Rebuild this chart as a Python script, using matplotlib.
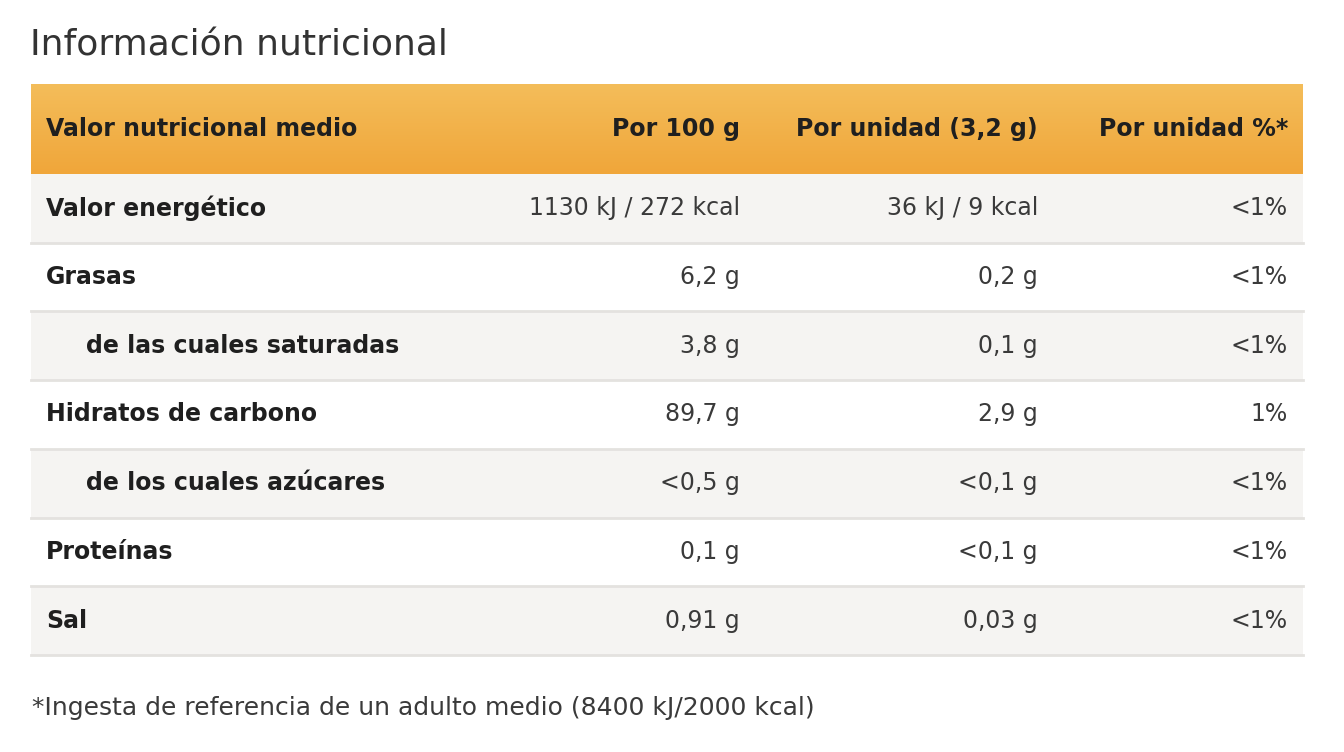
import numpy as np
import matplotlib.pyplot as plt
from matplotlib.colors import LinearSegmentedColormap

W, H = 1344, 752

title = "Información nutricional"
headers = ["Valor nutricional medio", "Por 100 g", "Por unidad (3,2 g)", "Por unidad %*"]
nutrients = ["Valor energético", "Grasas", "de las cuales saturadas",
             "Hidratos de carbono", "de los cuales azúcares", "Proteínas", "Sal"]
indented = [False, False, True, False, True, False, False]
per_100g = ["1130 kJ / 272 kcal", "6,2 g", "3,8 g", "89,7 g", "<0,5 g", "0,1 g", "0,91 g"]
per_unit = ["36 kJ / 9 kcal", "0,2 g", "0,1 g", "2,9 g", "<0,1 g", "<0,1 g", "0,03 g"]
per_unit_pct = ["<1%", "<1%", "<1%", "1%", "<1%", "<1%", "<1%"]
footnote = "*Ingesta de referencia de un adulto medio (8400 kJ/2000 kcal)"

plt.rcParams['font.family'] = ['DejaVu Sans']

fig = plt.figure(figsize=(W / 100, H / 100), dpi=100)
ax = fig.add_axes([0, 0, 1, 1])
ax.set_xlim(0, W)
ax.set_ylim(H, 0)
ax.axis("off")

x0, x1 = 31, 1303
head_top, head_bot = 84, 174
row_h = 68.7
col_right = [740, 1038, 1288]
dark = "#1f1f1f"

# header gradient
cmap = LinearSegmentedColormap.from_list("hdr", ["#f4bd5a", "#f0a63a"])
grad = np.linspace(0, 1, 100).reshape(-1, 1)
ax.imshow(grad, cmap=cmap, extent=[x0, x1, head_bot, head_top], aspect="auto", zorder=1)

ax.text(30, 45, title, fontsize=26, color="#333333", va="center", ha="left")

hy = (head_top + head_bot) / 2
ax.text(46, hy, headers[0], fontsize=17, fontweight="bold", color=dark, va="center", zorder=3)
for xr, h in zip(col_right, headers[1:]):
    ax.text(xr, hy, h, fontsize=17, fontweight="bold", color=dark, va="center", ha="right", zorder=3)

for i, name in enumerate(nutrients):
    top = head_bot + i * row_h
    bg = "#f5f4f2" if i % 2 == 0 else "white"
    ax.fill_between([x0, x1], top, top + row_h, color=bg, lw=0, zorder=1)
    ax.plot([x0, x1], [top + row_h, top + row_h], color="#e4e2df", lw=2, zorder=2)
    cy = top + row_h / 2
    ax.text(86 if indented[i] else 46, cy, name, fontsize=17, fontweight="bold",
            color=dark, va="center", zorder=3)
    for xr, v in zip(col_right, [per_100g[i], per_unit[i], per_unit_pct[i]]):
        ax.text(xr, cy, v, fontsize=17, color="#3a3a3a",
                va="center", ha="right", zorder=3)

ax.text(32, 708, footnote, fontsize=18, color="#3a3a3a", va="center", ha="left")

fig.savefig("out.png", dpi=100)
